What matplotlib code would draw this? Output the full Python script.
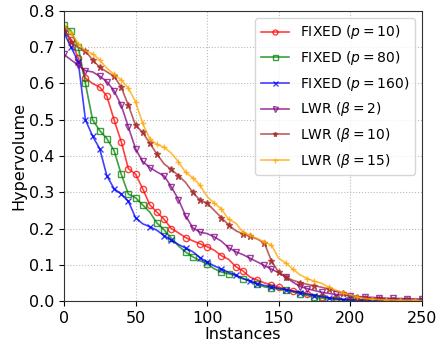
import matplotlib
matplotlib.use("Agg")
import matplotlib.pyplot as plt
import numpy as np

instances = list(range(0, 251, 5))

fixed_p10 = [0.75, 0.72, 0.67, 0.615, 0.60, 0.59, 0.565, 0.50, 0.44, 0.365,
             0.35, 0.31, 0.265, 0.245, 0.225, 0.20, 0.188, 0.175, 0.166, 0.158,
             0.15, 0.14, 0.125, 0.115, 0.095, 0.083, 0.066, 0.058, 0.050, 0.044,
             0.038, 0.033, 0.028, 0.024, 0.020, 0.016, 0.012, 0.009, 0.007, 0.005,
             0.004, 0.003, 0.003, 0.002, 0.002, 0.002, 0.001, 0.001, 0.001, 0.001, 0.001]
fixed_p80 = [0.76, 0.745, 0.70, 0.60, 0.50, 0.47, 0.448, 0.415, 0.35, 0.295,
             0.285, 0.265, 0.245, 0.215, 0.196, 0.173, 0.152, 0.135, 0.122, 0.111,
             0.103, 0.089, 0.080, 0.075, 0.070, 0.062, 0.055, 0.046, 0.039, 0.036,
             0.033, 0.030, 0.025, 0.020, 0.015, 0.011, 0.008, 0.006, 0.004, 0.003,
             0.002, 0.002, 0.001, 0.001, 0.001, 0.001, 0.001, 0.0, 0.0, 0.0, 0.0]
fixed_p160 = [0.74, 0.70, 0.66, 0.50, 0.455, 0.42, 0.345, 0.31, 0.295, 0.275,
              0.23, 0.213, 0.205, 0.195, 0.18, 0.168, 0.156, 0.146, 0.136, 0.12,
              0.107, 0.097, 0.088, 0.079, 0.072, 0.062, 0.055, 0.048, 0.043, 0.039,
              0.035, 0.031, 0.027, 0.023, 0.019, 0.015, 0.012, 0.009, 0.006, 0.004,
              0.003, 0.002, 0.002, 0.001, 0.001, 0.001, 0.001, 0.0, 0.0, 0.0, 0.0]
lwr_b2 = [0.68, 0.665, 0.65, 0.635, 0.632, 0.62, 0.605, 0.58, 0.54, 0.48,
          0.42, 0.385, 0.368, 0.356, 0.345, 0.315, 0.28, 0.235, 0.202, 0.19,
          0.186, 0.177, 0.165, 0.147, 0.136, 0.128, 0.118, 0.108, 0.098, 0.088,
          0.078, 0.066, 0.052, 0.040, 0.034, 0.029, 0.024, 0.021, 0.018, 0.016,
          0.014, 0.012, 0.011, 0.010, 0.009, 0.008, 0.007, 0.007, 0.006, 0.006, 0.005]
lwr_b10 = [0.75, 0.715, 0.70, 0.69, 0.665, 0.645, 0.632, 0.62, 0.59, 0.54,
           0.485, 0.465, 0.435, 0.405, 0.378, 0.363, 0.346, 0.327, 0.30, 0.278,
           0.27, 0.25, 0.23, 0.21, 0.194, 0.185, 0.178, 0.171, 0.16, 0.11,
           0.08, 0.066, 0.057, 0.051, 0.046, 0.042, 0.038, 0.033, 0.027, 0.021,
           0.016, 0.012, 0.009, 0.007, 0.005, 0.004, 0.003, 0.003, 0.002, 0.002, 0.002]
lwr_b15 = [0.76, 0.74, 0.71, 0.69, 0.682, 0.665, 0.642, 0.625, 0.61, 0.587,
           0.55, 0.49, 0.447, 0.432, 0.424, 0.408, 0.384, 0.355, 0.34, 0.32,
           0.288, 0.27, 0.254, 0.225, 0.215, 0.19, 0.181, 0.172, 0.163, 0.154,
           0.118, 0.105, 0.088, 0.072, 0.062, 0.054, 0.049, 0.038, 0.030, 0.022,
           0.017, 0.011, 0.007, 0.005, 0.004, 0.003, 0.003, 0.002, 0.002, 0.002, 0.001]

labels = [r"FIXED ($p=10$)", r"FIXED ($p=80$)", r"FIXED ($p=160$)",
          r"LWR ($\beta=2$)", r"LWR ($\beta=10$)", r"LWR ($\beta=15$)"]

series = [fixed_p10, fixed_p80, fixed_p160, lwr_b2, lwr_b10, lwr_b15]
colors = ["red", "green", "blue", "purple", "brown", "orange"]
markers = ["o", "s", "x", "v", "*", "+"]
filled = [False, False, True, False, True, True]

fig = plt.figure(figsize=(4.38, 3.49), dpi=100)
ax = fig.add_axes([0.146, 0.1375, 0.817, 0.831])

for vals, lab, c, m, f in zip(series, labels, colors, markers, filled):
    kw = dict(color=c, marker=m, markersize=4.5, linewidth=1.2, alpha=0.75,
              label=lab, markevery=0.03)
    if not f:
        kw["markerfacecolor"] = "none"
    ax.plot(instances, vals, **kw)

ax.set_xlim(0, 250)
ax.set_ylim(0, 0.8)
ax.set_xticks([0, 50, 100, 150, 200, 250])
ax.set_yticks(np.arange(0, 0.81, 0.1))
ax.set_yticklabels([f"{v:.1f}" for v in np.arange(0, 0.81, 0.1)])
ax.tick_params(labelsize=11.5)
ax.set_xlabel("Instances", fontsize=11.5, labelpad=1)
ax.set_ylabel("Hypervolume", fontsize=11.5, labelpad=2)
ax.grid(True, linestyle=":", color="#bbbbbb", linewidth=0.8)
for s in ax.spines.values():
    s.set_color("#333333")

ax.legend(loc="upper right", fontsize=10, labelspacing=0.55, framealpha=0.8,
          markerscale=0.8)

fig.savefig("out.png", dpi=100)
